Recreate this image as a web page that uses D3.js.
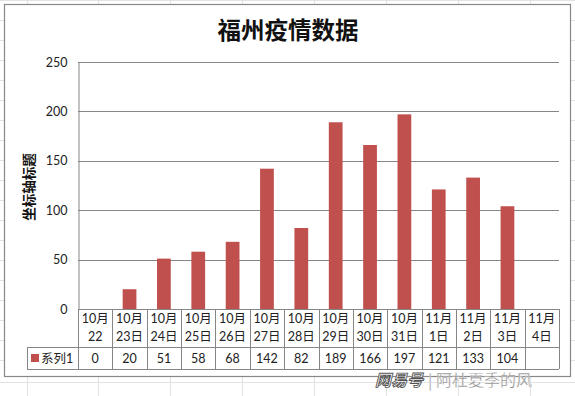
<!DOCTYPE html>
<html><head><meta charset="utf-8">
<script src="https://cdn.jsdelivr.net/npm/d3@7"></script>
<style>body{margin:0;background:#fff}svg{display:block}</style>
</head><body><svg id="c" width="575" height="396"></svg>
<script>
const categories = ["10月|22","10月|23日","10月|24日","10月|25日","10月|26日","10月|27日","10月|28日","10月|29日","10月|30日","10月|31日","11月|1日","11月|2日","11月|3日","11月|4日"];
const values = [0,20,51,58,68,142,82,189,166,197,121,133,104,null];
const yTicks = [0,50,100,150,200,250];
const seriesName = "系列1";
const title = "福州疫情数据";
const yTitle = "坐标轴标题";

const svg = d3.select("#c");
const font = "Lato, 'Noto Sans CJK SC', sans-serif";

// spreadsheet background grid
const bg = svg.append("g").attr("stroke","#e2e2e2").attr("stroke-width",1);
[27,98,170,242,314,386,458,530].forEach(x=>{
  bg.append("line").attr("x1",x+.5).attr("x2",x+.5).attr("y1",0).attr("y2",396);
});
[0,20,40,60,80,100,120,140,160,180,200,220,240,260,280,300,320,340,360,382].forEach(y=>{
  bg.append("line").attr("x1",0).attr("x2",575).attr("y1",y+.5).attr("y2",y+.5);
});

// chart area
svg.append("rect").attr("x",4.5).attr("y",4.5).attr("width",566).attr("height",372)
  .attr("fill","#fff").attr("stroke","#888").attr("stroke-width",1.2);

const x = d3.scaleBand().domain(categories).range([78,559]).padding(0);
const y = d3.scaleLinear().domain([0,250]).range([309,62]);
const bw = x.bandwidth();

svg.append("text").attr("x",288).attr("y",39).attr("text-anchor","middle")
  .attr("font-family","'Noto Sans CJK SC', sans-serif").attr("font-weight","bold")
  .attr("font-size",23.5).attr("fill","#111").text(title);

// gridlines
const grid = svg.append("g");
yTicks.filter(t=>t>0).forEach(t=>{
  grid.append("line").attr("x1",78).attr("x2",559).attr("y1",Math.round(y(t))+.5).attr("y2",Math.round(y(t))+.5)
    .attr("stroke","#868686").attr("stroke-width",1);
});

// y axis
const yAxis = d3.axisLeft(y).tickValues(yTicks).tickSize(0).tickPadding(11);
const ga = svg.append("g").attr("transform","translate(78.5,0)").call(yAxis);
ga.select(".domain").attr("stroke","#868686");
ga.selectAll("text").attr("font-family",font).attr("font-size",12.5).attr("fill","#222");

svg.append("text").attr("transform","translate(34,187) rotate(-90)").attr("text-anchor","middle")
  .attr("font-family","'Noto Sans CJK SC', sans-serif").attr("font-weight","bold").attr("font-size",13.5)
  .attr("fill","#111").text(yTitle);

// bars
svg.append("g").selectAll("rect").data(categories.map((c,i)=>({c,v:values[i]})).filter(d=>d.v!=null&&d.v>0))
  .enter().append("rect")
  .attr("x",d=>x(d.c)+bw*0.3).attr("width",bw*0.4)
  .attr("y",d=>y(d.v)).attr("height",d=>y(0)-y(d.v))
  .attr("fill","#C0504D");

// data table
const tb = svg.append("g").attr("stroke","#868686").attr("stroke-width",1).attr("fill","none");
const rowTop = 309, rowMid = 347, rowBot = 369;
tb.append("line").attr("x1",78).attr("x2",559).attr("y1",rowTop+.5).attr("y2",rowTop+.5);
tb.append("line").attr("x1",27).attr("x2",559).attr("y1",rowMid+.5).attr("y2",rowMid+.5);
tb.append("line").attr("x1",27).attr("x2",559).attr("y1",rowBot+.5).attr("y2",rowBot+.5);
tb.append("line").attr("x1",27.5).attr("x2",27.5).attr("y1",rowMid).attr("y2",rowBot);
categories.forEach(c=>{
  tb.append("line").attr("x1",Math.round(x(c))+.5).attr("x2",Math.round(x(c))+.5).attr("y1",rowTop).attr("y2",rowBot);
});
tb.append("line").attr("x1",559.5).attr("x2",559.5).attr("y1",rowTop).attr("y2",rowBot);

const tt = svg.append("g").attr("font-family",font).attr("font-size",12.5).attr("fill","#222").attr("text-anchor","middle");
categories.forEach((c,i)=>{
  const [a,b] = c.split("|");
  const cx = x(c)+bw/2;
  tt.append("text").attr("x",cx).attr("y",323).text(a);
  tt.append("text").attr("x",cx).attr("y",341).text(b);
  if(values[i]!=null) tt.append("text").attr("x",cx).attr("y",363).text(values[i]);
});
svg.append("rect").attr("x",31).attr("y",354).attr("width",8).attr("height",8).attr("fill","#C0504D");
svg.append("text").attr("x",41).attr("y",363).attr("font-family",font).attr("font-size",12.5).attr("fill","#222").text(seriesName);

// watermark
svg.append("text").attr("x",375).attr("y",386).attr("font-family","'Noto Sans CJK SC', sans-serif")
  .attr("font-size",16).attr("font-style","italic").attr("font-weight","bold").attr("fill","#fff")
  .attr("stroke","#555").attr("stroke-width",0.9).text("网易号");
svg.append("text").attr("x",428).attr("y",386).attr("font-family","'Noto Sans CJK SC', sans-serif")
  .attr("font-size",16).attr("fill","#888").attr("stroke","#fff").attr("stroke-width",0.3).text("| 阿杜夏季的风");
</script></body></html>
